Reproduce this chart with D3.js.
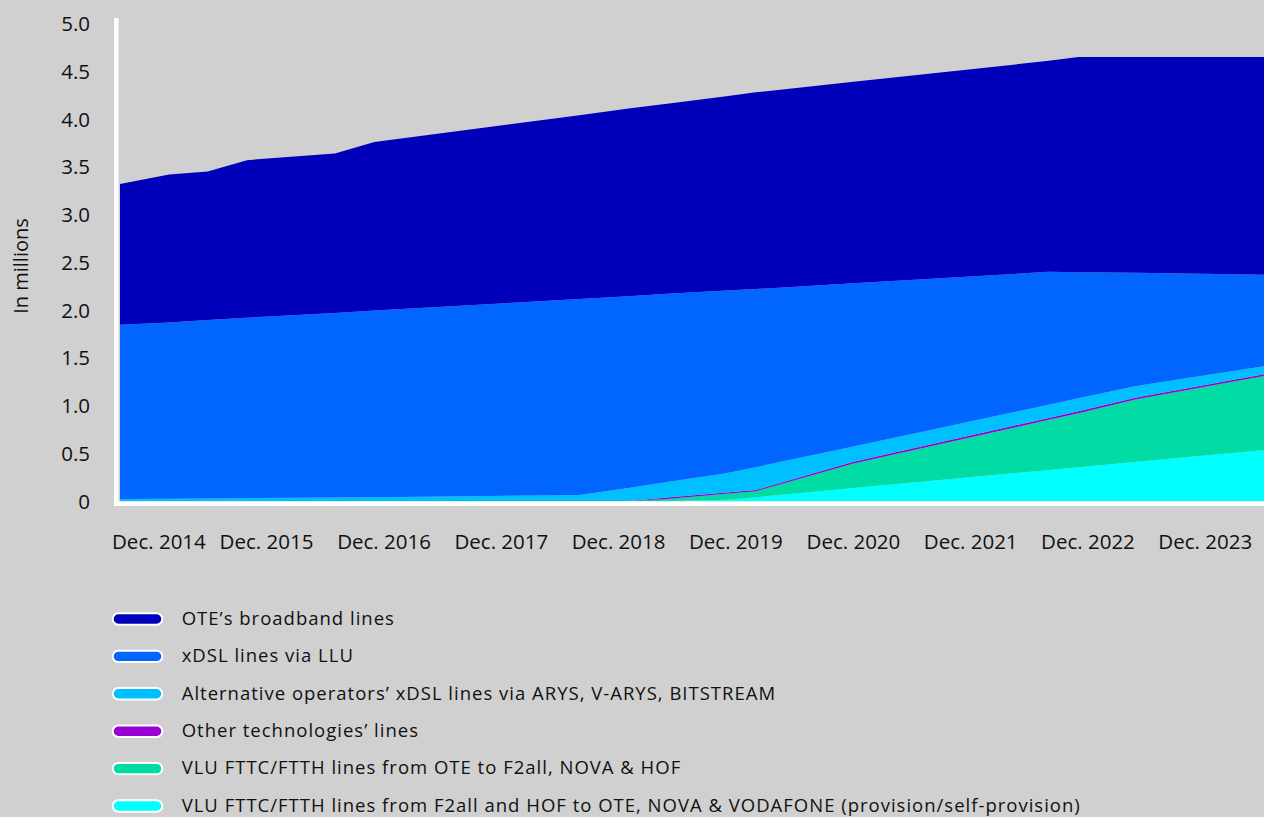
<!DOCTYPE html>
<html>
<head>
<meta charset="utf-8">
<script src="https://cdn.jsdelivr.net/npm/d3@7"></script>
<style>
  html, body { margin: 0; padding: 0; background: #d0d0d0; }
  svg { display: block; font-family: "Open Sans", sans-serif; }
</style>
</head>
<body>
<svg id="chart" width="1264" height="817"></svg>
<script>
// Observation dates (year-month) and broadband lines per category, in millions
const dates = ["2014-09", "2015-02", "2015-06", "2015-10", "2016-07", "2016-11",
               "2018-08", "2019-01", "2019-05", "2019-11", "2020-02", "2020-12",
               "2022-08", "2022-11", "2023-05", "2024-06"];

const vluFromF2allHof = [0, 0, 0, 0, 0, 0, 0, 0, 0, 0.012, 0.04, 0.135, 0.325, 0.354, 0.41, 0.535];
const vluFromOte      = [0, 0, 0, 0, 0, 0, 0, 0, 0.02, 0.064, 0.062, 0.257, 0.525, 0.566, 0.655, 0.773];
const otherTech       = [0, 0, 0, 0, 0, 0, 0, 0, 0.016, 0.012, 0.013, 0.018, 0.02, 0.02, 0.02, 0.02];
const altXdsl         = [0.02, 0.024, 0.027, 0.03, 0.037, 0.04, 0.063, 0.136, 0.162, 0.202, 0.239, 0.162, 0.138, 0.135, 0.12, 0.082];
const xdslLlu         = [1.825, 1.846, 1.868, 1.89, 1.933, 1.955, 2.052, 2.009, 1.972, 1.915, 1.866, 1.708, 1.392, 1.32, 1.185, 0.96];
const oteLines        = [1.475, 1.55, 1.555, 1.65, 1.67, 1.765, 1.925, 1.965, 1.99, 2.035, 2.06, 2.11, 2.21, 2.255, 2.26, 2.28];

const labelYears = [2014, 2015, 2016, 2017, 2018, 2019, 2020, 2021, 2022, 2023];
const yTicks = [0, 0.5, 1, 1.5, 2, 2.5, 3, 3.5, 4, 4.5, 5];

// Series from the bottom of the stack to the top
const seriesInfo = [
  { key: "vluF2all", values: vluFromF2allHof, color: "#00ffff",
    label: "VLU FTTC/FTTH lines from F2all and HOF to OTE, NOVA & VODAFONE (provision/self-provision)" },
  { key: "vluOte", values: vluFromOte, color: "#00dca4",
    label: "VLU FTTC/FTTH lines from OTE to F2all, NOVA & HOF" },
  { key: "other", values: otherTech, color: "#9a00d4",
    label: "Other technologies\u2019 lines" },
  { key: "alt", values: altXdsl, color: "#00bfff",
    label: "Alternative operators\u2019 xDSL lines via ARYS, V-ARYS, BITSTREAM" },
  { key: "llu", values: xdslLlu, color: "#0066ff",
    label: "xDSL lines via LLU" },
  { key: "ote", values: oteLines, color: "#0000bb",
    label: "OTE\u2019s broadband lines" }
];

const parseMonth = d3.utcParse("%Y-%m");
const rows = dates.map((d, i) => {
  const row = { date: parseMonth(d) };
  seriesInfo.forEach(s => { row[s.key] = s.values[i]; });
  return row;
});

const svg = d3.select("#chart");
const W = 1264;

const x = d3.scaleUtc()
  .domain([parseMonth(dates[0]), parseMonth(dates[dates.length - 1])])
  .range([120, W]);
const y = d3.scaleLinear().domain([0, 5]).range([501, 23.6]);

// Stacked areas
const stack = d3.stack().keys(seriesInfo.map(s => s.key));
const layers = stack(rows);
const area = d3.area()
  .x(d => x(d.data.date))
  .y0(d => y(d[0]))
  .y1(d => y(d[1]))
  .curve(d3.curveLinear);

svg.append("g")
  .selectAll("path")
  .data(layers)
  .join("path")
  .attr("d", area)
  .attr("fill", (d, i) => seriesInfo[i].color);

// Axis lines
svg.append("line")
  .attr("x1", 116.3).attr("x2", 116.3)
  .attr("y1", 18).attr("y2", 506)
  .attr("stroke", "#ffffff").attr("stroke-width", 4.5);
svg.append("line")
  .attr("x1", 114).attr("x2", W)
  .attr("y1", 503.8).attr("y2", 503.8)
  .attr("stroke", "#ffffff").attr("stroke-width", 4.5);

// Y tick labels
svg.append("g")
  .selectAll("text")
  .data(yTicks)
  .join("text")
  .attr("x", 90)
  .attr("y", d => y(d) + 7.5)
  .attr("text-anchor", "end")
  .attr("font-size", 20.5)
  .attr("fill", "#111")
  .text(d => d === 0 ? "0" : d3.format(".1f")(d));

// Y axis title
svg.append("text")
  .attr("transform", "translate(28,266) rotate(-90)")
  .attr("text-anchor", "middle")
  .attr("font-size", 20)
  .attr("fill", "#111")
  .text("In millions");

// X labels at December of each year, kept clear of the left edge
const xLabels = svg.append("g")
  .selectAll("text")
  .data(labelYears)
  .join("text")
  .attr("y", 548.5)
  .attr("text-anchor", "middle")
  .attr("font-size", 20.5)
  .attr("fill", "#111")
  .text(d => "Dec. " + d);
xLabels.each(function (d) {
  const w = this.getComputedTextLength();
  let cx = x(parseMonth(d + "-12"));
  if (cx - w / 2 < 112) cx = 112 + w / 2;
  d3.select(this).attr("x", cx);
});

// Legend, top entry is the top layer of the stack
const legendItems = seriesInfo.slice().reverse();
const legend = svg.append("g")
  .selectAll("g")
  .data(legendItems)
  .join("g")
  .attr("transform", (d, i) => `translate(0,${619 + i * 37.4})`);
legend.append("rect")
  .attr("x", 112.7).attr("y", -5.7)
  .attr("width", 49.6).attr("height", 11.4)
  .attr("rx", 5.7).attr("ry", 5.7)
  .attr("fill", d => d.color)
  .attr("stroke", "#ffffff").attr("stroke-width", 2);
legend.append("text")
  .attr("x", 181.7).attr("y", 5.8)
  .attr("font-size", 18.5)
  .attr("letter-spacing", 1)
  .attr("fill", "#111")
  .text(d => d.label);
</script>
</body>
</html>
